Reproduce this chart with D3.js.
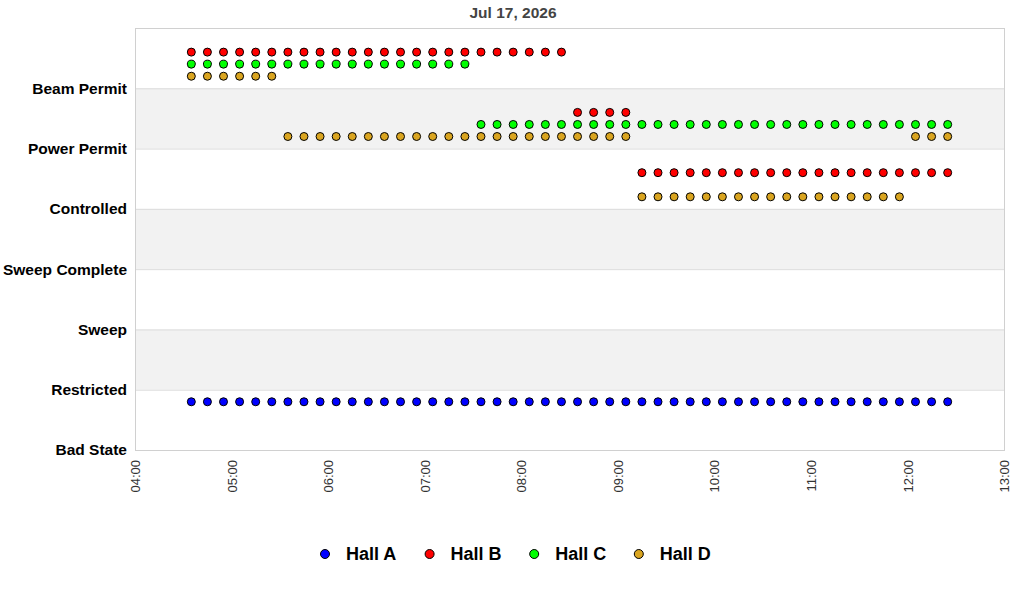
<!DOCTYPE html>
<html>
<head>
<meta charset="utf-8">
<script src="https://cdn.jsdelivr.net/npm/d3@7"></script>
<style>
  body { margin: 0; background: #fff; }
  svg { font-family: "Liberation Sans", Arial, sans-serif; display: block; }
</style>
</head>
<body>
<svg id="chart" width="1024" height="600"></svg>
<script>
// state names, bottom to top
const states = ["Bad State", "Restricted", "Sweep", "Sweep Complete", "Controlled", "Power Permit", "Beam Permit"];

// sample times (10 minute polling)
const times = [
  "04:35","04:45","04:55","05:05","05:15","05:25","05:35","05:45","05:55","06:05","06:15","06:25",
  "06:35","06:45","06:55","07:05","07:15","07:25","07:35","07:45","07:55","08:05","08:15","08:25",
  "08:35","08:45","08:55","09:05","09:15","09:25","09:35","09:45","09:55","10:05","10:15","10:25",
  "10:35","10:45","10:55","11:05","11:15","11:25","11:35","11:45","11:55","12:05","12:15","12:25"
];

// state index per sample, one list per hall
const hallA = [
  0,0,0,0,0,0,0,0,0,0,0,0, 0,0,0,0,0,0,0,0,0,0,0,0,
  0,0,0,0,0,0,0,0,0,0,0,0, 0,0,0,0,0,0,0,0,0,0,0,0
];
const hallB = [
  6,6,6,6,6,6,6,6,6,6,6,6, 6,6,6,6,6,6,6,6,6,6,6,6,
  5,5,5,5,4,4,4,4,4,4,4,4, 4,4,4,4,4,4,4,4,4,4,4,4
];
const hallC = [
  6,6,6,6,6,6,6,6,6,6,6,6, 6,6,6,6,6,6,5,5,5,5,5,5,
  5,5,5,5,5,5,5,5,5,5,5,5, 5,5,5,5,5,5,5,5,5,5,5,5
];
const hallD = [
  6,6,6,6,6,6,5,5,5,5,5,5, 5,5,5,5,5,5,5,5,5,5,5,5,
  5,5,5,5,4,4,4,4,4,4,4,4, 4,4,4,4,4,4,4,4,4,5,5,5
];

const hallNames = ["Hall A", "Hall B", "Hall C", "Hall D"];
const hallColors = ["#0000ff", "#ff0000", "#00ff00", "#daa520"];
const hallOffsets = [0.8, 0.6, 0.4, 0.2];   // keep halls from sitting on top of each other
const hallData = [hallA, hallB, hallC, hallD];

const day = "2026-07-17";
const parseTime = d3.timeParse("%Y-%m-%d %H:%M");

const margin = { top: 28, right: 20, bottom: 150, left: 135 };
const width = 1004 - margin.left;
const height = 450 - margin.top;

const svg = d3.select("#chart");
const g = svg.append("g").attr("transform", `translate(${margin.left},${margin.top})`);

const x = d3.scaleTime()
  .domain([parseTime(day + " 04:00"), parseTime(day + " 13:00")])
  .range([0, width]);

const y = d3.scaleLinear()
  .domain([0, states.length])
  .range([height, 0]);

// alternating bands
for (let i = 1; i < states.length; i += 2) {
  g.append("rect")
    .attr("x", 0)
    .attr("y", y(i + 1))
    .attr("width", width)
    .attr("height", y(i) - y(i + 1))
    .attr("fill", "#f2f2f2");
}

// grid lines at each state
g.selectAll(".grid")
  .data(d3.range(1, states.length))
  .join("line")
  .attr("x1", 0)
  .attr("x2", width)
  .attr("y1", d => y(d) + 0.5)
  .attr("y2", d => y(d) + 0.5)
  .attr("stroke", "#dcdcdc");

// plot border
g.append("rect")
  .attr("x", 0.5)
  .attr("y", 0.5)
  .attr("width", width)
  .attr("height", height)
  .attr("fill", "none")
  .attr("stroke", "#d0d0d0");

// y axis
const yAxis = g.append("g")
  .call(d3.axisLeft(y)
    .tickValues(d3.range(states.length))
    .tickFormat(i => states[i])
    .tickSize(0)
    .tickPadding(8));
yAxis.select(".domain").remove();
yAxis.selectAll("text")
  .attr("font-size", "15.5px")
  .attr("font-weight", "bold")
  .attr("fill", "#000")
  .attr("font-family", "'Liberation Sans', Arial, sans-serif");

// x axis
const xAxis = g.append("g")
  .attr("transform", `translate(0,${height})`)
  .call(d3.axisBottom(x)
    .ticks(d3.timeHour.every(1))
    .tickFormat(d3.timeFormat("%H:%M"))
    .tickSize(0));
xAxis.select(".domain").remove();
xAxis.selectAll("text")
  .attr("font-size", "13px")
  .attr("fill", "#333")
  .attr("font-family", "'Liberation Sans', Arial, sans-serif")
  .attr("text-anchor", "end")
  .attr("transform", "rotate(-90)")
  .attr("x", -10)
  .attr("y", 0)
  .attr("dy", "0.35em");

// points
hallData.forEach((vals, h) => {
  g.append("g")
    .selectAll("circle")
    .data(vals.map((s, i) => ({ t: parseTime(day + " " + times[i]), s: s })))
    .join("circle")
    .attr("cx", d => x(d.t))
    .attr("cy", d => y(d.s + hallOffsets[h]))
    .attr("r", 4)
    .attr("fill", hallColors[h])
    .attr("stroke", "#000")
    .attr("stroke-width", 1);
});

// title
svg.append("text")
  .attr("x", 513)
  .attr("y", 18)
  .attr("text-anchor", "middle")
  .attr("font-size", "15.5px")
  .attr("font-weight", "bold")
  .attr("fill", "#444")
  .text("Jul 17, 2026");

// legend
const legend = svg.append("g").attr("transform", "translate(325,554)");
const item = legend.selectAll("g")
  .data(hallNames)
  .join("g")
  .attr("transform", (d, i) => `translate(${i * 104.6},0)`);
item.append("circle")
  .attr("r", 4.5)
  .attr("fill", (d, i) => hallColors[i])
  .attr("stroke", "#000");
item.append("text")
  .attr("x", 21)
  .attr("dy", "0.35em")
  .attr("font-size", "18px")
  .attr("font-weight", "bold")
  .attr("fill", "#000")
  .text(d => d);
</script>
</body>
</html>
